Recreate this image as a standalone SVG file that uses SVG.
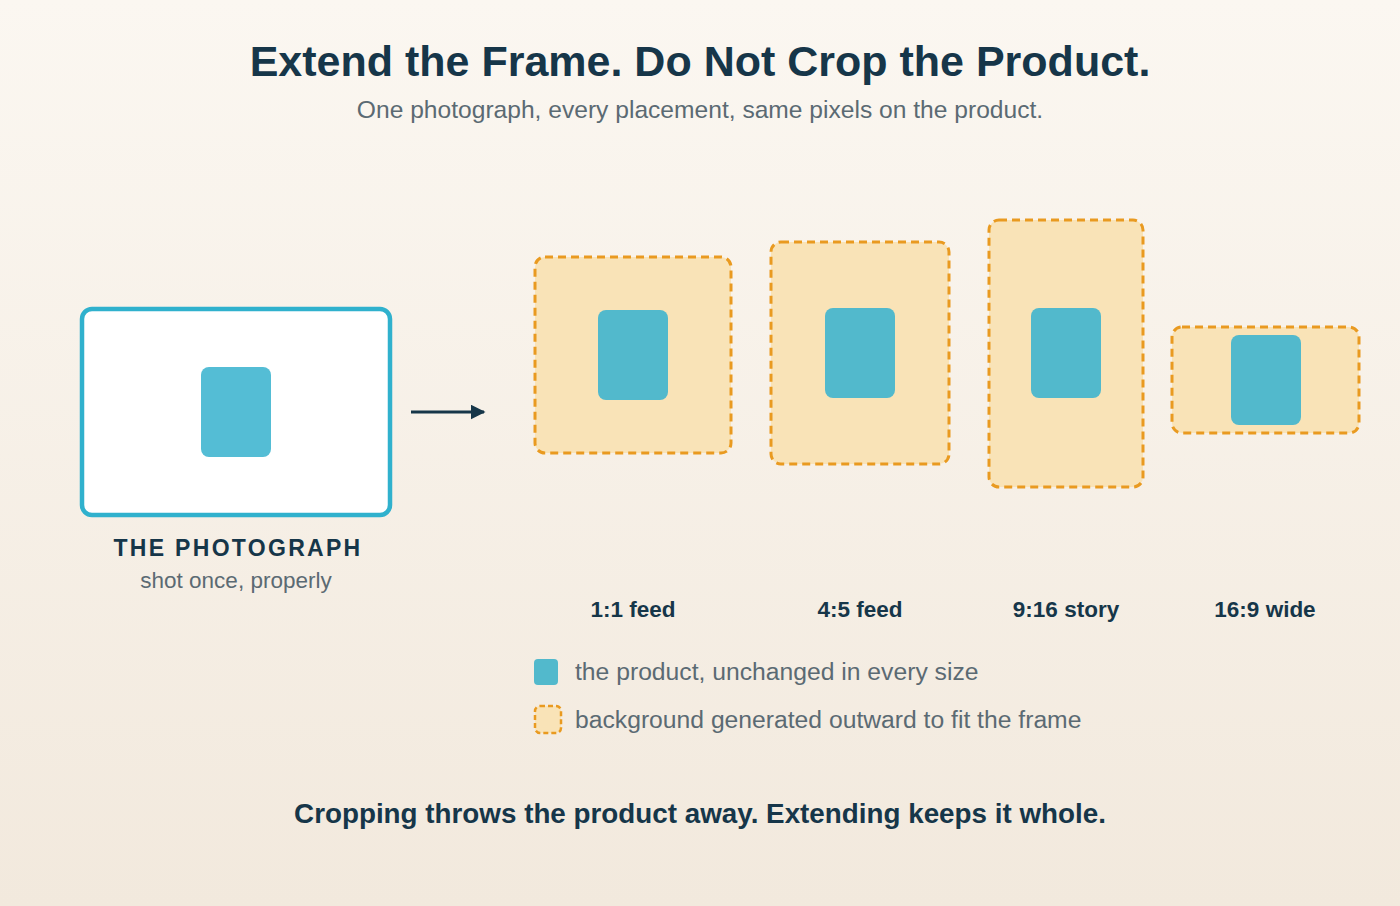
<svg xmlns="http://www.w3.org/2000/svg" width="1400" height="906" viewBox="0 0 1400 906">
<defs>
<linearGradient id="bg" x1="0" y1="0" x2="0" y2="1">
<stop offset="0" stop-color="#fbf7f1"/>
<stop offset="1" stop-color="#f2e9dd"/>
</linearGradient>
<marker id="arr" viewBox="0 0 10 10" refX="9" refY="5" markerWidth="5" markerHeight="5" orient="auto" markerUnits="strokeWidth">
<path d="M0,0 L10,5 L0,10 z" fill="#163649"/>
</marker>
<style>
.t{font-family:"Liberation Sans",Arial,sans-serif}
.title{font-size:43px;font-weight:bold;fill:#163649}
.sub{font-size:24.6px;fill:#5b6a73}
.lbl{font-size:22.5px;font-weight:bold;fill:#163649}
.cap{font-size:23px;font-weight:bold;fill:#163649;letter-spacing:2.3px}
.capsub{font-size:22.5px;fill:#5b6a73}
.leg{font-size:24.7px;fill:#5b6a73}
.foot{font-size:27.8px;font-weight:bold;fill:#163649}
.frame{fill:#f9e3b7;stroke:#e99a20;stroke-width:3;stroke-dasharray:8 5}
.prod{fill:#52b9cc}
.photoprod{fill:#54bdd5}
</style>
</defs>
<rect width="1400" height="906" fill="url(#bg)"/>
<text class="t title" x="700" y="76" text-anchor="middle">Extend the Frame. Do Not Crop the Product.</text>
<text class="t sub" x="700" y="118" text-anchor="middle">One photograph, every placement, same pixels on the product.</text>

<g id="photograph">
<rect x="82" y="309" width="308" height="206" rx="10" fill="#ffffff" stroke="#30b1cd" stroke-width="4.5"/>
<rect class="photoprod" x="201" y="367" width="70" height="90" rx="8"/>
<text class="t cap" x="238" y="556" text-anchor="middle">THE PHOTOGRAPH</text>
<text class="t capsub" x="236" y="588" text-anchor="middle">shot once, properly</text>
</g>

<g id="connectors">
<line x1="411" y1="412" x2="484" y2="412" stroke="#163649" stroke-width="3" marker-end="url(#arr)"/>
</g>

<g id="feed-1-1">
<rect class="frame" x="535" y="257" width="196" height="196" rx="10"/>
<rect class="prod" x="598" y="310" width="70" height="90" rx="8"/>
<text class="t lbl" x="633" y="617" text-anchor="middle">1:1 feed</text>
</g>
<g id="feed-4-5">
<rect class="frame" x="771" y="242" width="178" height="222" rx="10"/>
<rect class="prod" x="825" y="308" width="70" height="90" rx="8"/>
<text class="t lbl" x="860" y="617" text-anchor="middle">4:5 feed</text>
</g>
<g id="story-9-16">
<rect class="frame" x="989" y="220" width="154" height="267" rx="10"/>
<rect class="prod" x="1031" y="308" width="70" height="90" rx="8"/>
<text class="t lbl" x="1066" y="617" text-anchor="middle">9:16 story</text>
</g>
<g id="wide-16-9">
<rect class="frame" x="1172" y="327" width="187" height="106" rx="10"/>
<rect class="prod" x="1231" y="335" width="70" height="90" rx="8"/>
<text class="t lbl" x="1265" y="617" text-anchor="middle">16:9 wide</text>
</g>

<g id="legend">
<rect class="prod" x="534" y="659" width="24" height="26" rx="4"/>
<text class="t leg" x="575" y="680">the product, unchanged in every size</text>
<rect x="535" y="706" width="26" height="27" rx="5" fill="#f9e3b7" stroke="#e99a20" stroke-width="2.5" stroke-dasharray="5 3"/>
<text class="t leg" x="575" y="728">background generated outward to fit the frame</text>
</g>

<text class="t foot" x="700" y="823" text-anchor="middle">Cropping throws the product away. Extending keeps it whole.</text>
</svg>
